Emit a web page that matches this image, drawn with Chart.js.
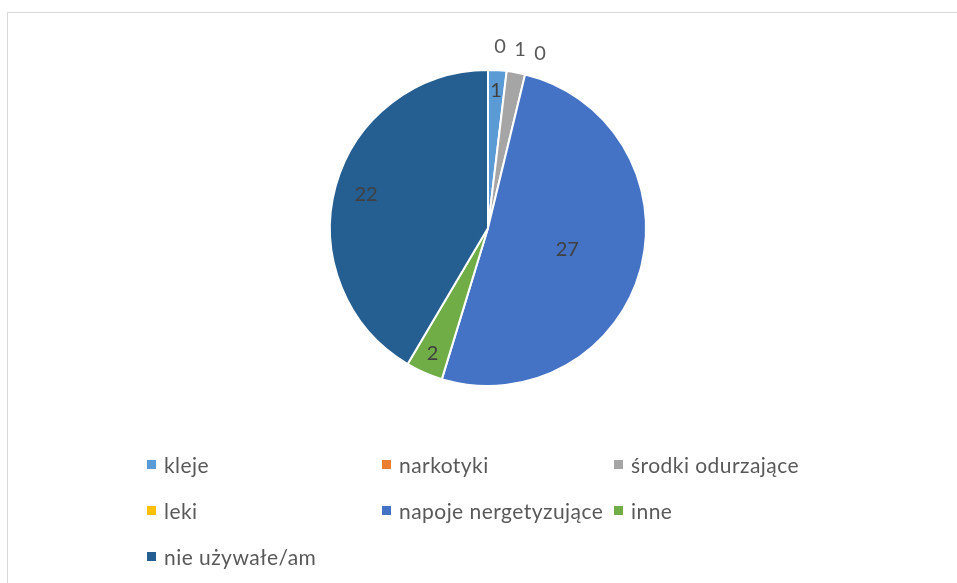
<!DOCTYPE html>
<html lang="pl">
<head>
<meta charset="utf-8">
<script src="https://cdn.jsdelivr.net/npm/chart.js@4"></script>
<style>
  html, body { margin: 0; padding: 0; background: #fff; }
  body { width: 957px; height: 583px; position: relative; overflow: hidden; font-family: Lato, "Open Sans", sans-serif; }
  #frame { position: absolute; left: 7px; top: 12px; width: 980px; height: 600px; border: 1px solid #d9d9d9; box-sizing: border-box; }
  #wrap { position: absolute; left: 0; top: 0; width: 957px; height: 583px; }
  #legend { position: absolute; left: 147px; top: 451px; display: grid; grid-template-columns: 235px 232px auto; grid-auto-rows: 46px; }
  .item { display: flex; align-items: center; height: 26px; color: #595959; font-size: 21px; letter-spacing: 0.45px; white-space: nowrap; }
  .box { width: 9px; height: 9px; margin-right: 8px; }
</style>
</head>
<body>
<div id="frame"></div>
<div id="wrap"><canvas id="myChart" width="957" height="583"></canvas></div>
<div id="legend"></div>
<script>
  const labels = [
    'kleje',
    'narkotyki',
    'środki odurzające',
    'leki',
    'napoje nergetyzujące',
    'inne',
    'nie używałe/am',
  ];
  const values = [1, 0, 1, 0, 27, 2, 22];
  const colors = ['#5B9BD5', '#ED7D31', '#A5A5A5', '#FFC000', '#4472C4', '#70AD47', '#255E91'];

  // etykiety tych wycinków stoją poza kołem
  const outside = [1, 2, 3];

  const valueLabels = {
    id: 'valueLabels',
    afterDatasetsDraw(chart) {
      const ctx = chart.ctx;
      const meta = chart.getDatasetMeta(0);
      const total = values.reduce((a, b) => a + b, 0);
      const outer = [];
      ctx.save();
      ctx.font = '20px Lato, "Open Sans", sans-serif';
      ctx.textAlign = 'center';
      ctx.textBaseline = 'middle';
      meta.data.forEach(function(arc, i) {
        const p = arc.getProps(['x', 'y', 'startAngle', 'endAngle', 'outerRadius'], true);
        const mid = (p.startAngle + p.endAngle) / 2;
        if (outside.indexOf(i) >= 0) {
          outer.push({ i: i, p: p, x: p.x + Math.cos(mid) * p.outerRadius * 1.15 });
          return;
        }
        const share = values[i] / total;
        const k = share > 0.5 ? 0.52 : (share < 0.1 ? 0.87 : 0.8);
        ctx.fillStyle = '#404040';
        ctx.fillText(String(values[i]), p.x + Math.cos(mid) * p.outerRadius * k, p.y + Math.sin(mid) * p.outerRadius * k);
      });

      // rozsuwamy etykiety zewnętrzne, żeby na siebie nie wchodziły
      if (outer.length) {
        const gap = 20;
        const mean = outer.reduce((s, o) => s + o.x, 0) / outer.length;
        ctx.fillStyle = '#595959';
        outer.forEach(function(o, n) {
          const x = mean + (n - (outer.length - 1) / 2) * gap;
          const r = o.p.outerRadius * 1.15;
          const dx = x - o.p.x;
          const y = o.p.y - Math.sqrt(Math.max(r * r - dx * dx, 0));
          ctx.fillText(String(values[o.i]), x, y);
        });
      }
      ctx.restore();
    }
  };

  const data = {
    labels: labels,
    datasets: [{
      data: values,
      backgroundColor: colors,
      borderColor: '#ffffff',
      borderWidth: 2,
    }]
  };

  const config = {
    type: 'pie',
    data: data,
    options: {
      responsive: false,
      animation: false,
      layout: { padding: { top: 69, bottom: 196, left: 19, right: 0 } },
      plugins: {
        legend: { display: false },
        tooltip: { enabled: false },
      }
    },
    plugins: [valueLabels]
  };
  const myChart = new Chart(
    document.getElementById('myChart'),
    config
  );

  // legenda pod wykresem
  const legend = document.getElementById('legend');
  labels.forEach(function(name, i) {
    const item = document.createElement('div');
    item.className = 'item';
    const box = document.createElement('span');
    box.className = 'box';
    box.style.background = colors[i];
    item.appendChild(box);
    item.appendChild(document.createTextNode(name));
    legend.appendChild(item);
  });
</script>
</body>
</html>
